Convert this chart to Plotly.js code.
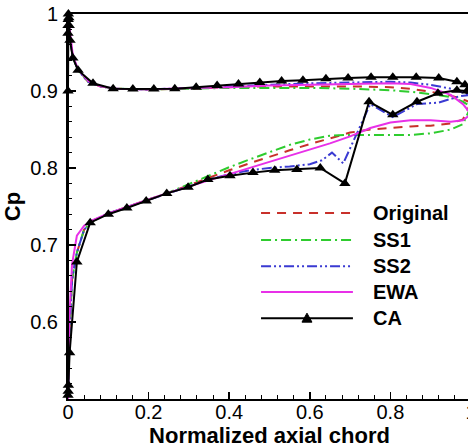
<!DOCTYPE html>
<html>
<head>
<meta charset="utf-8">
<script src="https://cdn.plot.ly/plotly-3.0.1.min.js"></script>
<style>
html, body { margin: 0; padding: 0; overflow: hidden; background: #fff; }
#chart { width: 480px; height: 448px; }
</style>
</head>
<body>
<div id="chart"></div>
<script>
// ---- Data ----
const seriesNames = ["Original", "SS1", "SS2", "EWA", "CA"];

const upperX = [0, 0.002, 0.005, 0.012, 0.025, 0.05, 0.08, 0.12, 0.2, 0.3, 0.4, 0.5, 0.6, 0.7, 0.8, 0.85, 0.9, 0.95, 0.98, 1.0];
const originalUpperY = [1.0, 0.99, 0.968, 0.944, 0.927, 0.912, 0.906, 0.903, 0.902, 0.903, 0.905, 0.906, 0.906, 0.906, 0.905, 0.903, 0.899, 0.894, 0.889, 0.885];
const ss1UpperY      = [1.0, 0.99, 0.968, 0.944, 0.927, 0.912, 0.906, 0.903, 0.902, 0.903, 0.904, 0.904, 0.904, 0.903, 0.901, 0.899, 0.896, 0.892, 0.886, 0.88];
const ss2UpperY      = [1.0, 0.99, 0.968, 0.944, 0.927, 0.912, 0.906, 0.903, 0.902, 0.904, 0.906, 0.908, 0.910, 0.911, 0.912, 0.911, 0.908, 0.903, 0.898, 0.895];
const ewaUpperY      = [1.0, 0.991, 0.97, 0.946, 0.928, 0.913, 0.906, 0.903, 0.902, 0.904, 0.905, 0.907, 0.908, 0.909, 0.910, 0.909, 0.904, 0.895, 0.883, 0.87];

const lowerX = [0, 0.003, 0.01, 0.022, 0.04, 0.06, 0.1, 0.15, 0.2, 0.25, 0.3, 0.35, 0.4, 0.45, 0.5, 0.55, 0.6, 0.65, 0.7, 0.75, 0.8, 0.85, 0.9, 0.95, 0.98, 1.0];
const originalLowerY = [0.5, 0.58, 0.655, 0.69, 0.72, 0.731, 0.741, 0.75, 0.759, 0.768, 0.777, 0.787, 0.797, 0.806, 0.815, 0.823, 0.831, 0.839, 0.846, 0.85, 0.852, 0.854, 0.855, 0.858, 0.863, 0.885];
const ss1LowerY      = [0.5, 0.58, 0.655, 0.69, 0.72, 0.731, 0.741, 0.75, 0.759, 0.768, 0.778, 0.79, 0.801, 0.811, 0.821, 0.83, 0.837, 0.842, 0.843, 0.843, 0.843, 0.843, 0.845, 0.85, 0.857, 0.88];
const ewaLowerY      = [0.5, 0.6, 0.675, 0.712, 0.725, 0.732, 0.741, 0.75, 0.759, 0.768, 0.776, 0.785, 0.793, 0.801, 0.809, 0.817, 0.824, 0.832, 0.841, 0.852, 0.859, 0.862, 0.862, 0.86, 0.862, 0.87];

const ss2LowerX = [0, 0.003, 0.01, 0.022, 0.04, 0.06, 0.1, 0.15, 0.2, 0.25, 0.3, 0.35, 0.4, 0.45, 0.5, 0.55, 0.6, 0.63, 0.655, 0.683, 0.75, 0.806, 0.866, 0.92, 0.97, 1.0];
const ss2LowerY = [0.5, 0.58, 0.655, 0.69, 0.72, 0.731, 0.741, 0.749, 0.758, 0.767, 0.776, 0.785, 0.792, 0.797, 0.80, 0.802, 0.805, 0.81, 0.82, 0.806, 0.883, 0.866, 0.883, 0.885, 0.893, 0.895];

const caUpperX = [0, 0, 0, 0.0005, 0.001, 0.002, 0.003, 0.005, 0.012, 0.025, 0.062, 0.112, 0.161, 0.213, 0.265, 0.318, 0.37, 0.423, 0.476, 0.53, 0.583, 0.64, 0.695, 0.752, 0.806, 0.864, 0.92, 0.965, 0.985, 1.0];
const caUpperY = [0.9, 0.975, 0.985, 0.993, 1.0, 0.995, 0.985, 0.966, 0.943, 0.927, 0.91, 0.903, 0.9025, 0.9027, 0.903, 0.905, 0.907, 0.909, 0.911, 0.913, 0.914, 0.916, 0.917, 0.918, 0.918, 0.918, 0.917, 0.912, 0.908, 0.9];
const caLowerX = [0, 0.0005, 0.001, 0.004, 0.022, 0.055, 0.1, 0.146, 0.194, 0.245, 0.298, 0.347, 0.402, 0.459, 0.513, 0.568, 0.626, 0.687, 0.747, 0.806, 0.866, 0.918, 0.965, 0.99, 1.0];
const caLowerY = [0.505, 0.51, 0.518, 0.56, 0.678, 0.729, 0.74, 0.748, 0.757, 0.767, 0.775, 0.785, 0.79, 0.794, 0.797, 0.798, 0.80, 0.78, 0.886, 0.869, 0.886, 0.897, 0.901, 0.9, 0.9];

const xTickVals = [0, 0.2, 0.4, 0.6, 0.8, 1];
const yTickVals = [0.6, 0.7, 0.8, 0.9, 1];

// ---- Build traces: lower side (TE -> LE) then upper side (LE -> TE) ----
function loop(lx, ly, ux, uy) {
  return { x: lx.slice().reverse().concat(ux), y: ly.slice().reverse().concat(uy) };
}
const styles = {
  Original: { color: "#c8302a", dash: "9px,7px", width: 2 },
  SS1: { color: "#2ecc2e", dash: "10px,4px,2px,4px", width: 2 },
  SS2: { color: "#3a3ad2", dash: "10px,3px,2px,3px,2px,3px", width: 2 },
  EWA: { color: "#e830e8", dash: "solid", width: 2 },
  CA: { color: "#000000", dash: "solid", width: 2 }
};
const loops = {
  Original: loop(lowerX, originalLowerY, upperX, originalUpperY),
  SS1: loop(lowerX, ss1LowerY, upperX, ss1UpperY),
  SS2: loop(ss2LowerX, ss2LowerY, upperX, ss2UpperY),
  EWA: loop(lowerX, ewaLowerY, upperX, ewaUpperY),
  CA: loop(caLowerX, caLowerY, caUpperX, caUpperY)
};

const traces = seriesNames.map(n => {
  const s = styles[n];
  const t = {
    type: "scatter", name: n, x: loops[n].x, y: loops[n].y,
    mode: n === "CA" ? "lines+markers" : "lines",
    line: { color: s.color, width: s.width, dash: s.dash },
    showlegend: false, hoverinfo: "skip"
  };
  if (n === "CA") {
    t.marker = { symbol: "triangle-up", size: 10, color: "#000" };
    t.cliponaxis = false;
  }
  return t;
});

// ---- Custom legend (long line samples) ----
const legendY = [0.483, 0.413, 0.345, 0.278, 0.21];
const legX0 = 0.479, legX1 = 0.707, legTextX = 0.752;
const shapes = [];
const annotations = [];
seriesNames.forEach((n, i) => {
  const s = styles[n];
  shapes.push({ type: "line", xref: "paper", yref: "paper", x0: legX0, x1: legX1, y0: legendY[i], y1: legendY[i],
    line: { color: s.color, width: s.width, dash: s.dash } });
  annotations.push({ xref: "paper", yref: "paper", x: legTextX, y: legendY[i], xanchor: "left", yanchor: "middle",
    text: n, showarrow: false, font: { family: "Liberation Sans, Arial, sans-serif", size: 20, color: "#000", weight: "bold" } });
});
// triangle marker on the CA legend line
shapes.push({ type: "path", xref: "paper", yref: "paper", xsizemode: "pixel", ysizemode: "pixel",
  xanchor: (legX0 + legX1) / 2, yanchor: legendY[4],
  path: "M-5,-4 L5,-4 L0,5 Z", fillcolor: "#000", line: { color: "#000", width: 1 } });

const font = { family: "Liberation Sans, Arial, sans-serif", size: 20, color: "#000" };
const layout = {
  width: 480, height: 448,
  margin: { l: 68, r: 9, t: 14, b: 49, pad: 0 },
  paper_bgcolor: "#fff", plot_bgcolor: "#fff",
  font: font,
  showlegend: false,
  xaxis: {
    range: [0, 1], tickvals: xTickVals, ticktext: xTickVals.map(String),
    ticks: "inside", ticklen: 7, tickwidth: 1.5, tickcolor: "#000",
    minor: { tick0: 0, dtick: 0.04, ticks: "inside", ticklen: 4, tickwidth: 1, tickcolor: "#000" },
    showline: true, linecolor: "#000", linewidth: 2, mirror: true,
    showgrid: false, zeroline: false,
    tickfont: font, ticklabelstandoff: -6,
    title: { text: "Normalized axial chord", font: { family: "Liberation Sans, Arial, sans-serif", size: 22, color: "#000", weight: "bold" }, standoff: 0 }
  },
  yaxis: {
    range: [0.5, 1], tickvals: yTickVals, ticktext: ["0.6", "0.7", "0.8", "0.9", "1"],
    ticks: "inside", ticklen: 8, tickwidth: 1.5, tickcolor: "#000",
    minor: { tick0: 0, dtick: 0.02, ticks: "inside", ticklen: 4, tickwidth: 1, tickcolor: "#000" },
    showline: true, linecolor: "#000", linewidth: 2, mirror: true,
    showgrid: false, zeroline: false,
    tickfont: font, ticklabelstandoff: 4,
    title: { text: "Cp", font: { family: "Liberation Sans, Arial, sans-serif", size: 22, color: "#000", weight: "bold" }, standoff: 6 }
  },
  shapes: shapes,
  annotations: annotations
};

Plotly.newPlot("chart", traces, layout, { displayModeBar: false, staticPlot: true });
</script>
</body>
</html>
